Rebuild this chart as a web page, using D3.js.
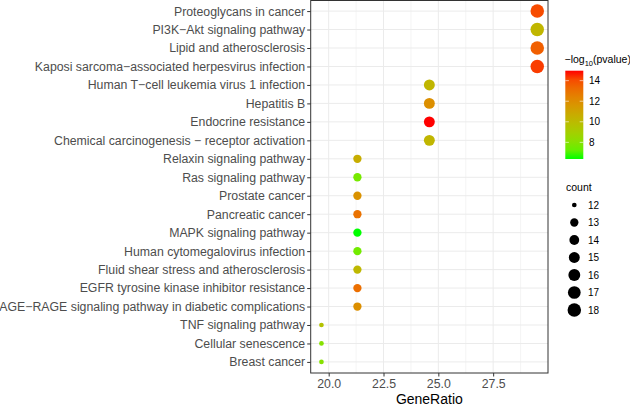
<!DOCTYPE html>
<html><head><meta charset="utf-8">
<script src="https://cdn.jsdelivr.net/npm/d3@7"></script>
<style>body{margin:0;background:#fff}svg{display:block}text{font-family:"Liberation Sans",Arial,sans-serif}</style>
</head><body>
<svg id="c" width="630" height="408"></svg>
<script>
const terms = ["Proteoglycans in cancer","PI3K\u2212Akt signaling pathway","Lipid and atherosclerosis","Kaposi sarcoma\u2212associated herpesvirus infection","Human T\u2212cell leukemia virus 1 infection","Hepatitis B","Endocrine resistance","Chemical carcinogenesis \u2212 receptor activation","Relaxin signaling pathway","Ras signaling pathway","Prostate cancer","Pancreatic cancer","MAPK signaling pathway","Human cytomegalovirus infection","Fluid shear stress and atherosclerosis","EGFR tyrosine kinase inhibitor resistance","AGE\u2212RAGE signaling pathway in diabetic complications","TNF signaling pathway","Cellular senescence","Breast cancer"];
const geneRatio = [29.51,29.51,29.51,29.51,24.59,24.59,24.59,24.59,21.31,21.31,21.31,21.31,21.31,21.31,21.31,21.31,21.31,19.67,19.67,19.67];
const counts = [18,18,18,18,15,15,15,15,13,13,13,13,13,13,13,13,13,12,12,12];
const logP = [14.1,10.2,13.6,14.4,10.2,11.9,14.97,10.2,10.6,7.6,11.8,13.0,6.38,7.5,10.1,13.1,11.9,9.6,8.0,8.0];
const xTicks = [20.0,22.5,25.0,27.5];
const xMinor = [21.25,23.75,26.25,28.75];
const colorTicks = [8,10,12,14];
const sizeLegend = [12,13,14,15,16,17,18];

const svg = d3.select("#c");
const P = {l:310.7, r:548, t:0, b:373};
const x = d3.scaleLinear().domain([19.18,30.0]).range([P.l,P.r]);
const y = d3.scalePoint().domain(terms).range([P.t,P.b]).padding(0.6);
const cmin = d3.min(logP), cmax = d3.max(logP);
const color = d3.scaleLinear().domain([cmin,cmax]).range(["#00ff00","#ff0000"]).interpolate(d3.interpolateLab);
const rad = d3.scaleSqrt().domain([0,6]).range([2.35,6.75]);
const r = c => rad(c-12);

svg.append("rect").attr("x",P.l).attr("y",P.t).attr("width",P.r-P.l).attr("height",P.b-P.t).attr("fill","#fff");
const g = svg.append("g");
g.selectAll(".mn").data(xMinor).join("line").attr("x1",d=>x(d)).attr("x2",d=>x(d)).attr("y1",P.t).attr("y2",P.b).attr("stroke","#EBEBEB").attr("stroke-width",0.5);
g.selectAll(".mj").data(xTicks).join("line").attr("x1",d=>x(d)).attr("x2",d=>x(d)).attr("y1",P.t).attr("y2",P.b).attr("stroke","#EBEBEB").attr("stroke-width",1);
g.selectAll(".hy").data(terms).join("line").attr("x1",P.l).attr("x2",P.r).attr("y1",d=>y(d)).attr("y2",d=>y(d)).attr("stroke","#EBEBEB").attr("stroke-width",1);

const data = terms.map((t,i)=>({t, gr:geneRatio[i], c:counts[i], p:logP[i]}));
svg.append("g").selectAll("circle").data(data).join("circle")
  .attr("cx",d=>x(d.gr)).attr("cy",d=>y(d.t)).attr("r",d=>r(d.c)).attr("fill",d=>color(d.p));

svg.append("rect").attr("x",P.l).attr("y",P.t+0.5).attr("width",P.r-P.l).attr("height",P.b-P.t-0.5).attr("fill","none").attr("stroke","#333").attr("stroke-width",1);

const ax = svg.append("g").attr("transform",`translate(0,${P.b})`).call(d3.axisBottom(x).tickValues(xTicks).tickFormat(d3.format(".1f")).tickSize(3.5).tickPadding(2.5));
ax.select(".domain").remove();
ax.selectAll("line").attr("stroke","#333");
ax.selectAll("text").attr("fill","#4D4D4D").attr("font-size",12.3).attr("font-family","Liberation Sans, Arial, sans-serif");
const ay = svg.append("g").attr("transform",`translate(${P.l},0)`).call(d3.axisLeft(y).tickSize(3.5).tickPadding(2));
ay.select(".domain").remove();
ay.selectAll("line").attr("stroke","#333");
ay.selectAll("text").attr("fill","#4D4D4D").attr("font-size",12.3).attr("font-family","Liberation Sans, Arial, sans-serif");

svg.append("text").attr("x",(P.l+P.r)/2).attr("y",404).attr("text-anchor","middle").attr("font-size",14).attr("fill","#000").text("GeneRatio");

const L = {x:565.3, w:18, t:70.7, b:159};
const defs = svg.append("defs");
const grad = defs.append("linearGradient").attr("id","cg").attr("x1",0).attr("x2",0).attr("y1",1).attr("y2",0);
d3.range(0,1.0001,0.1).forEach(s=>grad.append("stop").attr("offset",s).attr("stop-color",color(cmin+s*(cmax-cmin))));
svg.append("rect").attr("x",L.x).attr("y",L.t).attr("width",L.w).attr("height",L.b-L.t).attr("fill","url(#cg)");
const cy = d3.scaleLinear().domain([cmin,cmax]).range([L.b,L.t]);
const lt = svg.append("g");
colorTicks.forEach(v=>{
  lt.append("line").attr("x1",L.x).attr("x2",L.x+3.6).attr("y1",cy(v)).attr("y2",cy(v)).attr("stroke","#fff").attr("stroke-width",0.6);
  lt.append("line").attr("x1",L.x+L.w-3.6).attr("x2",L.x+L.w).attr("y1",cy(v)).attr("y2",cy(v)).attr("stroke","#fff").attr("stroke-width",0.6);
  lt.append("text").attr("x",589).attr("y",cy(v)).attr("dy","0.35em").attr("font-size",10).attr("fill","#000").text(v);
});
const tt = svg.append("text").attr("x",564.5).attr("y",63).attr("font-size",10.5).attr("fill","#000");
tt.append("tspan").text("\u2212log");
tt.append("tspan").attr("font-size",7.5).attr("dy",2.5).text("10");
tt.append("tspan").attr("dy",-2.5).text("(pvalue)");

svg.append("text").attr("x",566).attr("y",191).attr("font-size",10.5).attr("fill","#000").text("count");
const sy = d3.scaleLinear().domain([12,18]).range([205,310]);
const sl = svg.append("g");
sizeLegend.forEach(v=>{
  sl.append("circle").attr("cx",574.3).attr("cy",sy(v)).attr("r",r(v)).attr("fill","#000");
  sl.append("text").attr("x",588).attr("y",sy(v)).attr("dy","0.35em").attr("font-size",10).attr("fill","#000").text(v);
});
</script>
</body></html>
